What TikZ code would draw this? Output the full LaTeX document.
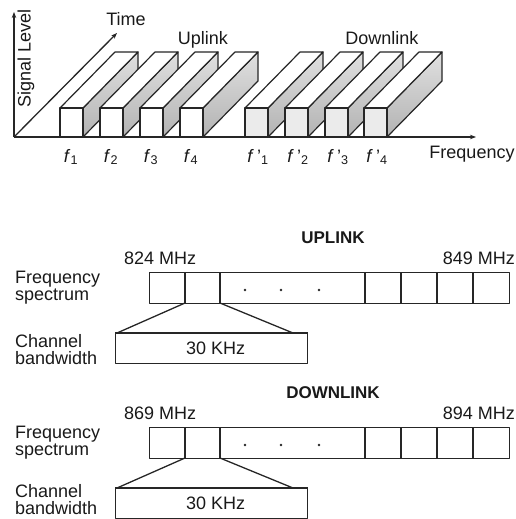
\documentclass[tikz,border=0pt]{standalone}
\usepackage{fontspec}
\setmainfont{Liberation Sans}
\usetikzlibrary{arrows.meta}
\begin{document}
\begin{tikzpicture}[x=1pt,y=-1pt, line join=round,
  txt/.style={font=\fontsize{18}{17}\selectfont, text=black!90, inner sep=0pt},
  ttl/.style={font=\fontsize{17}{16}\selectfont\bfseries, text=black!90, inner sep=0pt},
  ax/.style={line width=1.3pt, draw=black!85, -{Stealth[length=6pt,width=4.5pt]}},
  facebox/.style={draw=black!85, line width=1.2pt},
  barbox/.style={draw=black!85, line width=1.3pt},
  link/.style={draw=black!85, line width=1.3pt}
]
\useasboundingbox (0,0) rectangle (516,519);

% ---------- top: 3D spectrum ----------
\coordinate (O) at (14,137);
\coordinate (ytip) at (14,12);
\coordinate (ttip) at (117,33);
\coordinate (xtip) at (476,137);
\draw[ax] (O) -- (ytip);
\draw[ax] (O) -- (ttip);
\draw[ax] (O) -- (xtip);

\foreach \bx/\fc in {60/white,100/white,140/white,180/white,245/black!8,285/black!8,325/black!8,364/black!8}{
  \draw[facebox, top color=black!12, bottom color=black!30] (\bx+23,108) -- ++(55,-56) -- ++(0,29) -- ++(-55,56) -- cycle;
  \draw[facebox, fill=white] (\bx,108) -- ++(23,0) -- ++(55,-56) -- ++(-23,0) -- cycle;
  \draw[facebox, fill=\fc] (\bx,108) rectangle ++(23,29);
}

\node[txt, rotate=90] (sig) at (26,58) {Signal Level};
\node[txt] (time) at (126,19) {Time};
\node[txt] (up) at (203,40) {Uplink};
\node[txt] (down) at (382,38) {Downlink};
\node[txt] (freq) at (472,154) {Frequency};

\node[txt] (f1) at (71,157) {\textit{f}\textsubscript{1}};
\node[txt] (f2) at (111,157) {\textit{f}\textsubscript{2}};
\node[txt] (f3) at (151,157) {\textit{f}\textsubscript{3}};
\node[txt] (f4) at (191,157) {\textit{f}\textsubscript{4}};
\node[txt] (g1) at (258,157) {\textit{f}\,'\textsubscript{1}};
\node[txt] (g2) at (298,157) {\textit{f}\,'\textsubscript{2}};
\node[txt] (g3) at (338,157) {\textit{f}\,'\textsubscript{3}};
\node[txt] (g4) at (377,157) {\textit{f}\,'\textsubscript{4}};

% ---------- bottom: spectrum bars ----------
\foreach \oy/\ty/\nm/\ttext/\lo/\hi in {0/0/u/UPLINK/824 MHz/849 MHz, 155/150/d/DOWNLINK/869 MHz/894 MHz}{
  \node[ttl] (title\nm) at (333,238+\oy) {\ttext};
  \node[txt, anchor=west] (lo\nm) at (124,258+\oy) {\lo};
  \node[txt, anchor=east] (hi\nm) at (515,258+\oy) {\hi};
  \node[txt, align=left, anchor=west] (fs\nm) at (15,288+\oy) {Frequency\\spectrum};
  \node[txt, align=left, anchor=west] (cb\nm) at (15,350+\ty) {Channel\\bandwidth};
  \node[barbox, minimum width=360pt, minimum height=31pt, inner sep=0pt, anchor=north west] (bar\nm) at (149,272+\oy) {};
  \foreach \dx in {185,220,365,401,437,473}{
    \draw[barbox] (\dx,272+\oy) -- (\dx,303+\oy);
  }
  \foreach \dx in {245,281,319}{
    \fill[black!85] (\dx,290+\oy) circle (1.4pt);
  }
  \node[barbox, txt, minimum width=192pt, minimum height=30pt, anchor=north west] (bw\nm) at (115,333+\oy) {\hspace*{8pt}30 KHz};
  \draw[barbox, line width=2.2pt] (bw\nm.north west) -- (bw\nm.north east);
  \coordinate (c1\nm) at (185,303+\oy);
  \coordinate (c2\nm) at (220,303+\oy);
  \coordinate (e1\nm) at (117,333+\oy);
  \coordinate (e2\nm) at (293,333+\oy);
  \draw[link] (c1\nm) -- (e1\nm);
  \draw[link] (c2\nm) -- (e2\nm);
}
\end{tikzpicture}
\end{document}
